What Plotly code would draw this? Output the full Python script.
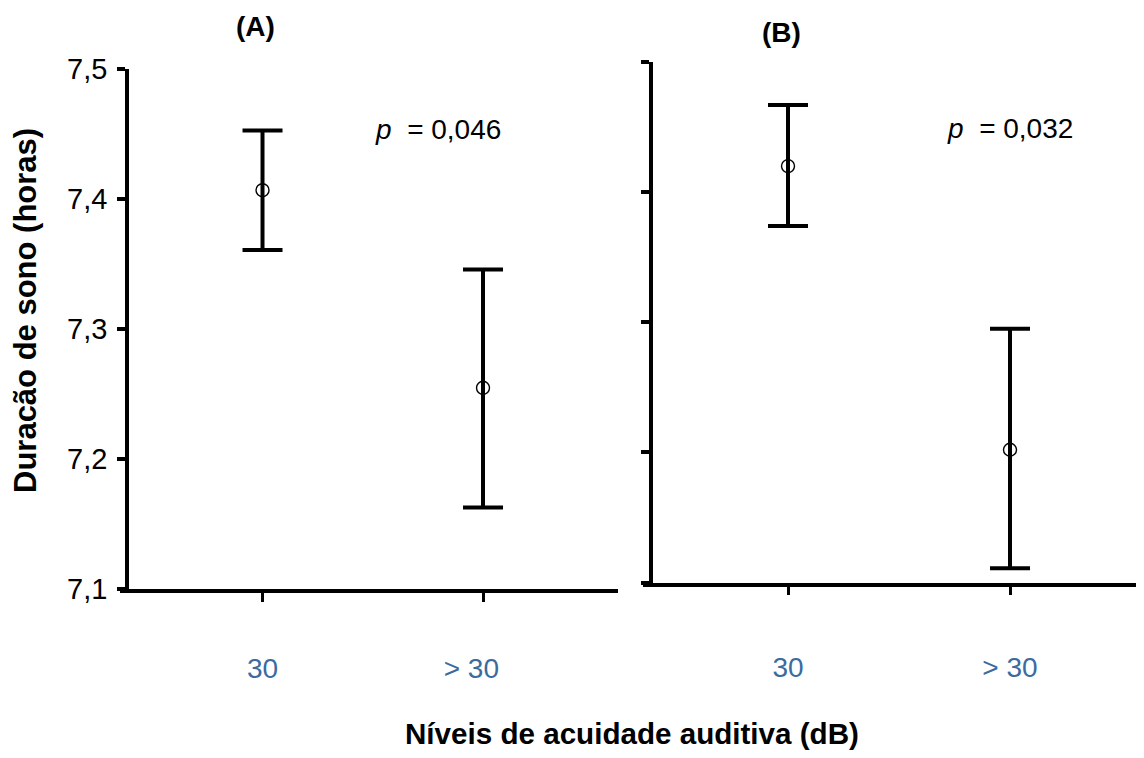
import plotly.graph_objects as go

# ---- data ----
categories_A = ["30", "> 30\u00a0\u00a0\u00a0"]
categories_B = ["30", "> 30"]
cat_pos = [0, 1]

mean_A = [7.407, 7.255]
upper_A = [7.453, 7.346]
lower_A = [7.361, 7.163]

mean_B = [7.420, 7.202]
upper_B = [7.467, 7.295]
lower_B = [7.374, 7.111]

y_tickvals = [7.1, 7.2, 7.3, 7.4, 7.5]
y_ticktext = ["7,1", "7,2", "7,3", "7,4", "7,5"]

p_A = "0,046"
p_B = "0,032"

# page body has an 8px default margin, so the figure is drawn 8px in
OFF = 8
W, H = 1144 - OFF, 758 - OFF
FONT = "Liberation Sans, Arial, sans-serif"
BLUE = "#3b6ba0"


def px_x(v):
    return (v - OFF) / W


def px_y(v):
    return 1 - (v - OFF) / H


def err_trace(means, up, lo, xa, ya):
    return go.Scatter(
        x=cat_pos, y=means, mode="markers", xaxis=xa, yaxis=ya,
        marker=dict(symbol="circle-open", size=13, color="black",
                    line=dict(width=1.4, color="black")),
        error_y=dict(type="data", symmetric=False,
                     array=[u - m for u, m in zip(up, means)],
                     arrayminus=[m - l for m, l in zip(means, lo)],
                     thickness=4, width=20, color="black"),
        showlegend=False, hoverinfo="skip",
    )


fig = go.Figure()
fig.add_trace(err_trace(mean_A, upper_A, lower_A, "x", "y"))
fig.add_trace(err_trace(mean_B, upper_B, lower_B, "x2", "y2"))

axis_common = dict(showgrid=False, zeroline=False, showline=True,
                   linecolor="black", linewidth=3.5, ticks="outside",
                   tickcolor="black", automargin=False)

fig.update_layout(
    xaxis=dict(domain=[px_x(120), px_x(618)], range=[-0.6463, 1.6122],
               tickvals=cat_pos, ticktext=categories_A, ticklen=9, tickwidth=3,
               tickfont=dict(family=FONT, size=28, color=BLUE),
               ticklabelstandoff=42, anchor="y", **axis_common),
    yaxis=dict(domain=[px_y(589.3), px_y(69.3)], range=[7.1, 7.5],
               tickvals=y_tickvals, ticktext=y_ticktext, ticklen=8, tickwidth=3.5,
               tickfont=dict(family=FONT, size=29, color="black"),
               ticklabelstandoff=4, anchor="free", position=px_x(127),
               **axis_common),
    xaxis2=dict(domain=[px_x(643), 1.0], range=[-0.6532, 1.6036],
                tickvals=cat_pos, ticktext=categories_B, ticklen=9, tickwidth=3,
                tickfont=dict(family=FONT, size=28, color=BLUE),
                ticklabelstandoff=48, anchor="y2", **axis_common),
    yaxis2=dict(domain=[px_y(582.5), px_y(62)], range=[7.1, 7.5],
                tickvals=y_tickvals, showticklabels=False, ticklen=8,
                tickwidth=3.5, anchor="free", position=px_x(651),
                **axis_common),
)

annotations = [
    dict(text="<b>Duracão de sono (horas)</b>", x=px_x(25), y=px_y(311),
         textangle=-90, font=dict(family=FONT, size=31, color="black")),
    dict(text="<b>Níveis de acuidade auditiva (dB)</b>", x=px_x(632), y=px_y(733),
         font=dict(family=FONT, size=29.6, color="black")),
    dict(text="<b>(A)</b>", x=px_x(255), y=px_y(27),
         font=dict(family=FONT, size=28, color="black")),
    dict(text="<b>(B)</b>", x=px_x(781), y=px_y(32),
         font=dict(family=FONT, size=28, color="black")),
    dict(text="<i>p</i>  = " + p_A, x=px_x(438), y=px_y(130),
         font=dict(family=FONT, size=28, color="black")),
    dict(text="<i>p</i>  = " + p_B, x=px_x(1010), y=px_y(128),
         font=dict(family=FONT, size=28, color="black")),
]
for a in annotations:
    a.update(xref="paper", yref="paper", showarrow=False,
             xanchor="center", yanchor="middle")
fig.update_layout(annotations=annotations)

fig.update_layout(width=W, height=H, autosize=False,
                  margin=dict(l=0, r=0, t=0, b=0, pad=0),
                  paper_bgcolor="white", plot_bgcolor="white",
                  font=dict(family=FONT))

fig.write_html("out.html")
